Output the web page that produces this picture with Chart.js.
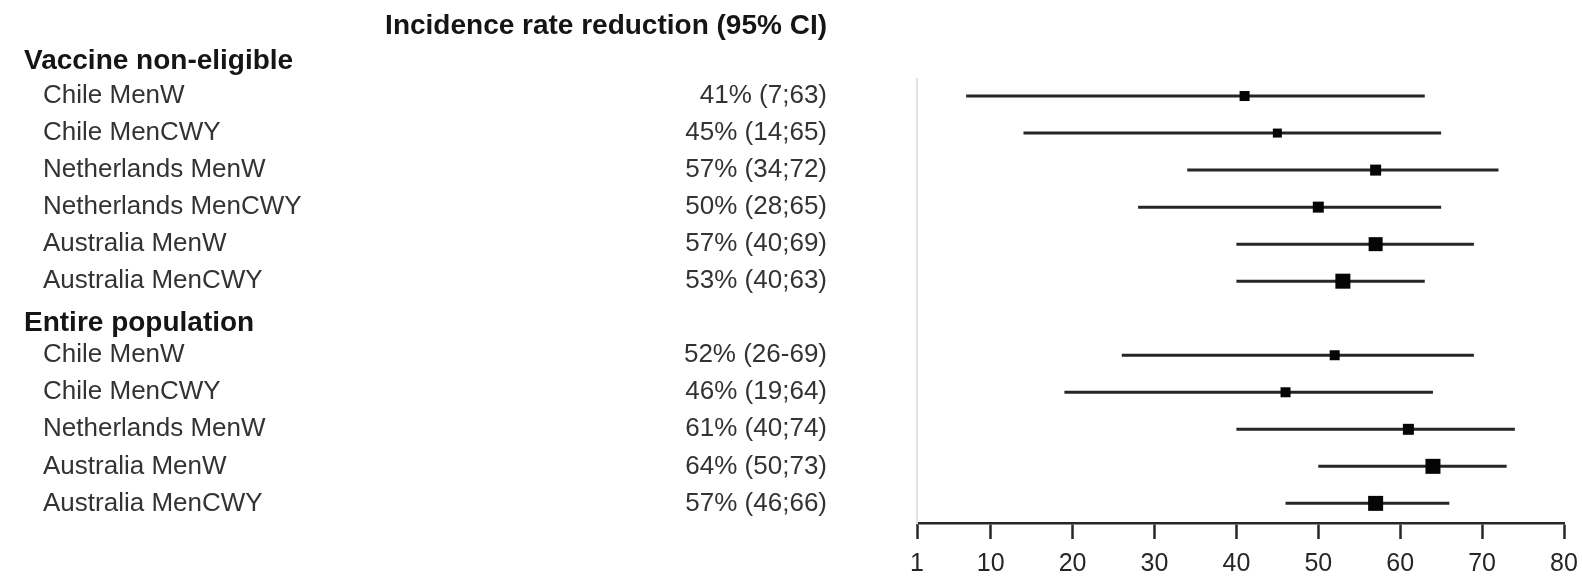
<!DOCTYPE html>
<html>
<head>
<meta charset="utf-8">
<script src="https://cdn.jsdelivr.net/npm/chart.js@4/dist/chart.umd.min.js"></script>
<style>
  html, body { margin: 0; padding: 0; background: #ffffff; }
  #wrap { width: 1582px; height: 584px; position: relative; }
</style>
</head>
<body>
<div id="wrap"><canvas id="forest" width="1582" height="584"></canvas></div>
<script>
// ---- data ----
const headerTitle = 'Incidence rate reduction (95% CI)';
const groupNames = ['Vaccine non-eligible', 'Entire population'];

const nonEligibleLabels = ['Chile MenW', 'Chile MenCWY', 'Netherlands MenW', 'Netherlands MenCWY', 'Australia MenW', 'Australia MenCWY'];
const nonEligibleEst  = [41, 45, 57, 50, 57, 53];
const nonEligibleLow  = [7, 14, 34, 28, 40, 40];
const nonEligibleHigh = [63, 65, 72, 65, 69, 63];
const nonEligibleSep  = [';', ';', ';', ';', ';', ';'];

const entireLabels = ['Chile MenW', 'Chile MenCWY', 'Netherlands MenW', 'Australia MenW', 'Australia MenCWY'];
const entireEst  = [52, 46, 61, 64, 57];
const entireLow  = [26, 19, 40, 50, 46];
const entireHigh = [69, 64, 74, 73, 66];
const entireSep  = ['-', ';', ';', ';', ';'];

const xTicks = [1, 10, 20, 30, 40, 50, 60, 70, 80];

// ---- styling ----
const FONT = '"Liberation Sans", Arial, sans-serif';
const boxSideNonEligible = [10, 9, 11, 11, 14, 15];
const boxSideEntire = [10, 10, 11, 15, 15];

// ---- row layout: one row per header / study, indexed top to bottom ----
const rows = [];
function addGroup(name, labels, est, low, high, sep, sides, headerShift) {
  rows.push({ header: true, text: name, shift: headerShift });
  labels.forEach((lab, i) => {
    rows.push({
      header: false,
      label: lab,
      est: est[i], lo: low[i], hi: high[i],
      ci: est[i] + '% (' + low[i] + sep[i] + high[i] + ')',
      side: sides[i]
    });
  });
}
addGroup(groupNames[0], nonEligibleLabels, nonEligibleEst, nonEligibleLow, nonEligibleHigh, nonEligibleSep, boxSideNonEligible, 2);
addGroup(groupNames[1], entireLabels, entireEst, entireLow, entireHigh, entireSep, boxSideEntire, 5);

const items = rows.map((r, i) => ({ r, i })).filter(o => !o.r.header);

// confidence interval segments
const ciDatasets = items.map(o => ({
  type: 'line',
  data: [{ x: o.r.lo, y: o.i }, { x: o.r.hi, y: o.i }],
  borderColor: '#262626',
  borderWidth: 3,
  pointRadius: 0,
  fill: false,
  order: 2
}));

// point estimates (boxes)
const estDataset = {
  type: 'scatter',
  data: items.map(o => ({ x: o.r.est, y: o.i })),
  pointStyle: 'rect',
  pointRadius: items.map(o => o.r.side / Math.SQRT2),
  backgroundColor: '#050505',
  borderColor: '#050505',
  borderWidth: 0,
  order: 1
};

// row texts drawn against the y scale
const rowText = {
  id: 'rowText',
  afterDraw(chart) {
    const ctx = chart.ctx;
    const ys = chart.scales.y;
    ctx.save();
    ctx.textBaseline = 'middle';
    rows.forEach((r, i) => {
      const py = ys.getPixelForValue(i);
      if (r.header) {
        ctx.font = 'bold 28px ' + FONT;
        ctx.fillStyle = '#151515';
        ctx.textAlign = 'left';
        ctx.fillText(r.text, 24, py + r.shift);
      } else {
        ctx.font = '26px ' + FONT;
        ctx.fillStyle = '#333333';
        ctx.textAlign = 'left';
        ctx.fillText(r.label, 43, py);
        ctx.textAlign = 'right';
        ctx.fillText(r.ci, 827, py);
      }
    });
    ctx.font = 'bold 28px ' + FONT;
    ctx.fillStyle = '#151515';
    ctx.textAlign = 'right';
    ctx.fillText(headerTitle, 827, 26);
    ctx.restore();
  }
};

new Chart(document.getElementById('forest'), {
  data: { datasets: [estDataset, ...ciDatasets] },
  options: {
    responsive: false,
    animation: false,
    layout: { padding: { left: 917, right: 18, top: 79, bottom: 0 } },
    plugins: { legend: { display: false }, tooltip: { enabled: false } },
    scales: {
      x: {
        type: 'linear',
        min: 1,
        max: 80,
        afterBuildTicks: s => { s.ticks = xTicks.map(v => ({ value: v })); },
        afterFit: s => { s.height = 61; s.paddingLeft = 0; s.paddingRight = 0; },
        grid: { drawOnChartArea: false, drawTicks: true, tickLength: 16, tickWidth: 2.5, tickColor: '#262626' },
        border: { display: true, color: '#262626', width: 2.5 },
        ticks: {
          color: '#262626',
          font: { family: FONT, size: 25 },
          padding: 10,
          maxRotation: 0,
          autoSkip: false
        }
      },
      y: {
        type: 'linear',
        reverse: true,
        min: 0.54,
        max: 12.53,
        afterFit: s => { s.width = 0; },
        ticks: { display: false },
        grid: { display: false, drawTicks: false },
        border: { display: true, color: '#e2e2e2', width: 2 }
      }
    }
  },
  plugins: [rowText]
});
</script>
</body>
</html>
